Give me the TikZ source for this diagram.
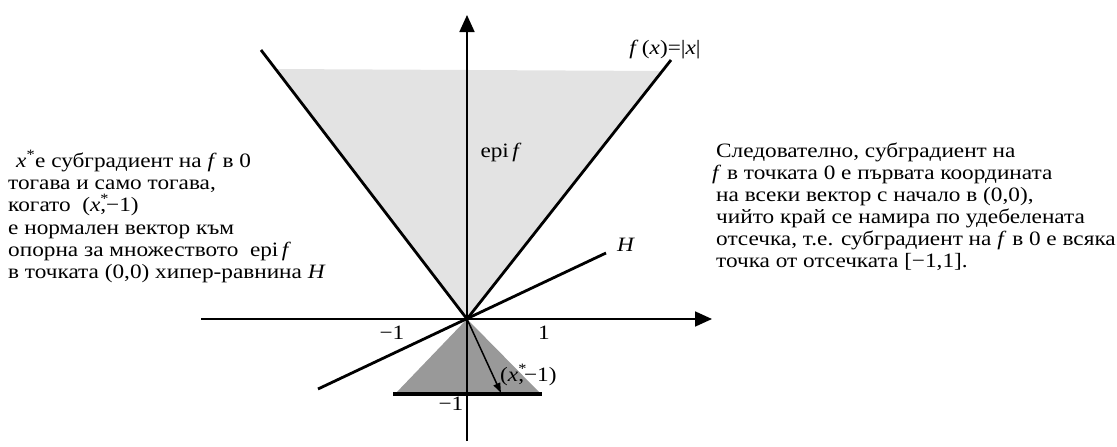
\documentclass[tikz,border=0pt]{standalone}
\usepackage{fontspec}
\setmainfont{Liberation Serif}[FakeStretch=1.14]
\usetikzlibrary{arrows.meta}
\newcommand\xstar{\textit{x}\textsuperscript{*}}
\newcommand\xvec{(\textit{x}\rlap{\textsuperscript{*}},−1)}
\definecolor{epigray}{gray}{0.89}
\definecolor{trigray}{gray}{0.6}
\begin{document}
\begin{tikzpicture}[x=1pt,y=1pt,
  txt/.style={inner sep=0pt, anchor=base west, font=\fontsize{20.4}{22}\selectfont},
  lbl/.style={inner sep=0pt, anchor=base, font=\fontsize{20.4}{22}\selectfont},
  axis/.style={line width=1.8pt, -{Triangle[length=17pt,width=15pt]}},
  graphline/.style={line width=2.8pt},
  segline/.style={line width=4pt},
  vecline/.style={line width=1.5pt, -{Triangle[length=10pt,width=7pt]}}]
\useasboundingbox (0,0) rectangle (1117,-447);
% key points
\coordinate (O) at (467,-319);
\coordinate (EL) at (276,-69);
\coordinate (ER) at (662,-71);
\coordinate (VL) at (261,-50);
\coordinate (VR) at (671,-60);
\coordinate (TL) at (395,-394);
\coordinate (TR) at (541,-394);
\coordinate (BL) at (393,-394);
\coordinate (BR) at (542,-394);
\coordinate (HL) at (318,-389);
\coordinate (HR) at (606,-253);
\coordinate (XL) at (201,-319);
\coordinate (XR) at (712,-319);
\coordinate (YB) at (467,-441);
\coordinate (YT) at (467,-15);
\coordinate (V) at (501,-393);
% regions
\fill[epigray] (O) -- (EL) -- (ER) -- cycle;
\fill[trigray] (O) -- (TL) -- (TR) -- cycle;
% axes and lines
\draw[axis] (XL) -- (XR);
\draw[axis] (YB) -- (YT);
\draw[graphline] (VL) -- (O) -- (VR);
\draw[graphline] (HL) -- (HR);
\draw[segline] (BL) -- (BR);
\draw[vecline] (O) -- (V);
% labels in the plot
\node[lbl] (fx) at (665,-54) {\textit{f}\,(\textit{x})=|\textit{x}|};
\node[lbl] (epi) at (501,-157) {epi\,\textit{f}};
\node[txt] (Hlab) at (617,-251) {\textit{H}};
\node[lbl] (mone) at (392,-339) {−1};
\node[lbl] (pone) at (544,-339) {1};
\node[txt] (veclab) at (500,-381) {\xvec};
\node[lbl] (mtwo) at (451,-410) {−1};
% left text
\node[txt] (l1) at (16,-167) {\xstar е субградиент на \textit{f} в 0};
\node[txt] (l2) at (8,-189) {тогава и само тогава,};
\node[txt] (l3) at (8,-211.5) {когато~ \xvec};
\node[txt] (l4) at (8,-234) {е нормален вектор към};
\node[txt] (l5) at (8,-256) {опорна за множеството~ epi\,\textit{f}};
\node[txt] (l6) at (8,-278) {в точката (0,0) хипер-равнина \textit{H}};
% right text
\node[txt] (r1) at (716,-157) {Следователно, субградиент на};
\node[txt] (r2) at (712,-179) {\textit{f} в точката 0 е първата координата};
\node[txt] (r3) at (716,-201) {на всеки вектор с начало в (0,0),};
\node[txt] (r4) at (716,-223) {чийто край се намира по удебелената};
\node[txt] (r5) at (716,-245) {отсечка, т.е. субградиент на \textit{f} в 0 е всяка};
\node[txt] (r6) at (716,-267) {точка от отсечката [−1,1].};
\end{tikzpicture}
\end{document}
